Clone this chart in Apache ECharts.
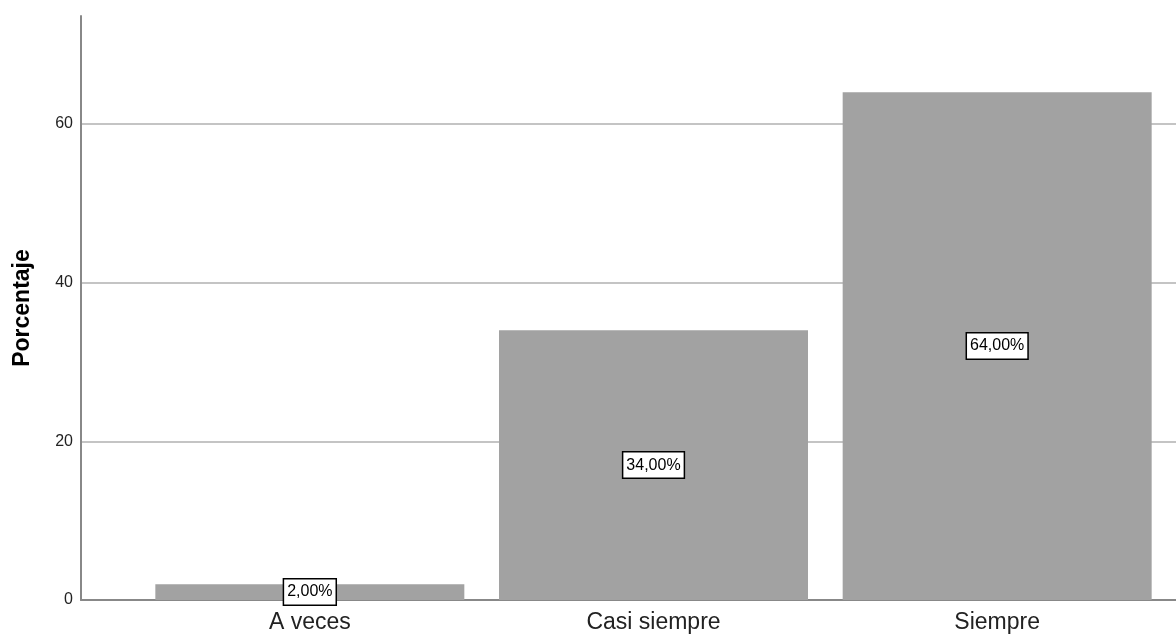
<!DOCTYPE html>
<html>
<head>
<meta charset="utf-8">
<script src="https://cdn.jsdelivr.net/npm/echarts@6/dist/echarts.min.js"></script>
<style>
html,body{margin:0;padding:0;background:#fff;}
#chart{width:1176px;height:637px;}
</style>
</head>
<body>
<div id="chart"></div>
<script>
var categories = ['A veces', 'Casi siempre', 'Siempre'];
var values = [2, 34, 64];
var yTicks = [0, 20, 40, 60];
var yTitle = 'Porcentaje';

var chart = echarts.init(document.getElementById('chart'));
var font = 'Liberation Sans, Arial, sans-serif';
var yMax = 73.6;
chart.setOption({
  animation: false,
  grid: [
    {left: 81, right: 0, top: 16, bottom: 37},
    {left: 138, right: 7, top: 16, bottom: 37}
  ],
  xAxis: [
    {gridIndex: 0, type: 'category', data: [''], axisLine: {show: true, lineStyle: {color: '#888', width: 2}},
     axisTick: {show: false}, axisLabel: {show: false}},
    {gridIndex: 1, type: 'category', data: categories, axisLine: {show: false}, axisTick: {show: false},
     axisLabel: {fontFamily: font, fontSize: 23, color: '#222', margin: 11}}
  ],
  yAxis: [
    {gridIndex: 0, type: 'value', min: 0, max: yMax, interval: 20,
     name: yTitle, nameLocation: 'middle', nameGap: 47, nameRotate: 90,
     nameTextStyle: {fontFamily: font, fontSize: 23, fontWeight: 'bold', color: '#000'},
     axisLine: {show: true, lineStyle: {color: '#888', width: 2}},
     axisTick: {show: false},
     axisLabel: {fontFamily: font, fontSize: 16, color: '#222', margin: 8, showMaxLabel: false,
       formatter: function (v) { return yTicks.indexOf(v) >= 0 ? String(v) : ''; }},
     splitLine: {show: true, showMaxLine: false, lineStyle: {color: '#c4c4c4', width: 2}}},
    {gridIndex: 1, type: 'value', min: 0, max: yMax, interval: 20, show: false, splitLine: {show: false}}
  ],
  series: [{
    type: 'bar',
    xAxisIndex: 1,
    yAxisIndex: 1,
    data: values,
    barWidth: 309,
    itemStyle: {color: '#a2a2a2'},
    label: {
      show: true, position: 'inside',
      formatter: function (p) { return p.value.toFixed(2).replace('.', ',') + '%'; },
      fontFamily: font, fontSize: 16, color: '#000',
      backgroundColor: '#fff', borderColor: '#000', borderWidth: 1.5, padding: [5, 3, 4, 3]
    }
  }]
});
</script>
</body>
</html>
